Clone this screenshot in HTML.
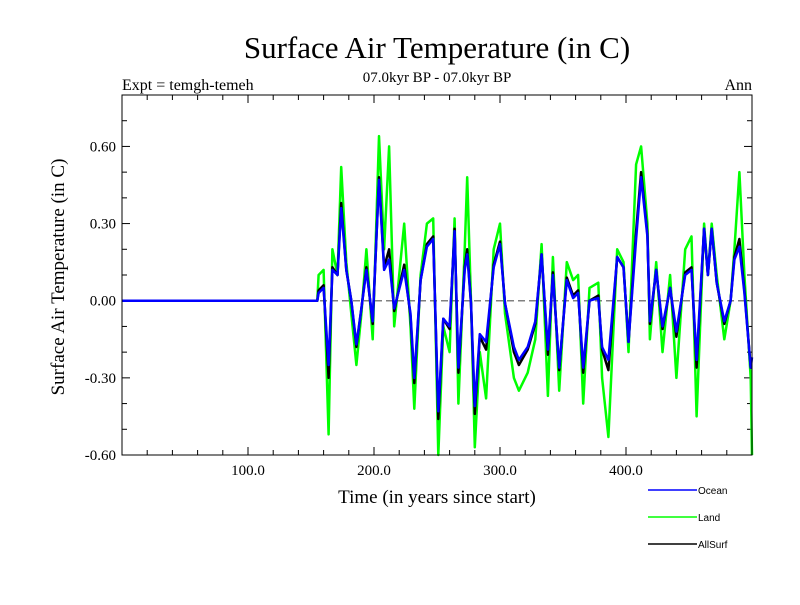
<!DOCTYPE html>
<html><head><meta charset="utf-8"><style>
body{margin:0;background:#fff;}
svg text{font-family:"Liberation Serif",serif;}
</style></head><body>
<svg id="chart" width="800" height="600" xmlns="http://www.w3.org/2000/svg">
<text x="437" y="58" font-size="31" text-anchor="middle">Surface Air Temperature (in C)</text>
<text x="437" y="82" font-size="15" text-anchor="middle">07.0kyr BP - 07.0kyr BP</text>
<text x="122" y="90" font-size="16">Expt = temgh-temeh</text>
<text x="752" y="90" font-size="16" text-anchor="end">Ann</text>
<text transform="translate(64,277) rotate(-90)" font-size="19" text-anchor="middle">Surface Air Temperature (in C)</text>
<text x="437" y="503" font-size="19" text-anchor="middle">Time (in years since start)</text>
<g id="axes"></g>
<g id="series"></g>
<rect x="122" y="95" width="630" height="360" fill="none" stroke="#000" stroke-width="1"/>
<g font-family="Liberation Sans, sans-serif" font-size="10">
<line x1="648" y1="490" x2="697" y2="490" stroke="#0000ff" stroke-width="1.5"/>
<text x="698" y="494" style="font-family:'Liberation Sans',sans-serif">Ocean</text>
<line x1="648" y1="517" x2="697" y2="517" stroke="#00ff00" stroke-width="1.5"/>
<text x="698" y="521" style="font-family:'Liberation Sans',sans-serif">Land</text>
<line x1="648" y1="544" x2="697" y2="544" stroke="#000" stroke-width="1.5"/>
<text x="698" y="548" style="font-family:'Liberation Sans',sans-serif">AllSurf</text>
</g>
</svg>
<script>
const years=[0,155,156,160,164,167,171,174,178,182,186,190,194,199,204,208,212,216,224,229,232,237,242,247,251,255,260,264,267,272,274,277,280,284,289,295,300,304,311,315,322,328,333,338,342,347,353,358,362,366,371,378,381,386,393,398,402,408,412,417,419,424,429,435,440,447,452,456,462,465,468,472,478,483,486,490,494,499,500];
const ocean=[0,0,0.03,0.05,-0.25,0.12,0.1,0.36,0.12,0.0,-0.17,-0.03,0.12,-0.08,0.47,0.12,0.16,-0.03,0.12,-0.05,-0.3,0.08,0.21,0.24,-0.43,-0.07,-0.1,0.27,-0.26,0.12,0.18,-0.01,-0.41,-0.13,-0.16,0.13,0.22,-0.01,-0.18,-0.23,-0.18,-0.08,0.18,-0.19,0.1,-0.26,0.08,0.01,0.03,-0.26,0.0,0.01,-0.18,-0.23,0.17,0.13,-0.16,0.24,0.48,0.25,-0.08,0.12,-0.1,0.05,-0.12,0.1,0.12,-0.23,0.28,0.1,0.28,0.07,-0.08,0.0,0.16,0.21,0.03,-0.26,-0.22];
const land=[0,0,0.1,0.12,-0.52,0.2,0.1,0.52,0.15,-0.05,-0.25,-0.05,0.2,-0.15,0.64,0.2,0.6,-0.1,0.3,-0.1,-0.42,0.1,0.3,0.32,-0.6,-0.1,-0.2,0.32,-0.4,0.2,0.48,0.0,-0.57,-0.2,-0.38,0.2,0.3,-0.05,-0.3,-0.35,-0.28,-0.15,0.22,-0.37,0.17,-0.35,0.15,0.08,0.1,-0.4,0.05,0.07,-0.3,-0.53,0.2,0.15,-0.2,0.53,0.6,0.3,-0.15,0.15,-0.2,0.1,-0.3,0.2,0.25,-0.45,0.3,0.1,0.3,0.1,-0.15,0.0,0.2,0.5,0.1,-0.3,-0.6];
const allsurf=[0,0,0.04,0.06,-0.3,0.13,0.1,0.38,0.12,0.0,-0.18,-0.03,0.13,-0.09,0.48,0.13,0.2,-0.04,0.14,-0.06,-0.32,0.08,0.22,0.25,-0.46,-0.07,-0.11,0.28,-0.28,0.13,0.2,-0.01,-0.44,-0.14,-0.19,0.14,0.23,-0.01,-0.2,-0.25,-0.19,-0.09,0.18,-0.21,0.11,-0.27,0.09,0.02,0.04,-0.28,0.0,0.02,-0.19,-0.27,0.17,0.13,-0.16,0.27,0.5,0.26,-0.09,0.12,-0.11,0.05,-0.14,0.11,0.13,-0.26,0.28,0.1,0.28,0.07,-0.09,0.0,0.17,0.24,0.04,-0.26,-0.26];
const yTicks=[-0.6,-0.3,0,0.3,0.6];
const yTickLabels=["-0.60","-0.30","0.00","0.30","0.60"];
const xTicks=[100,200,300,400];
const xTickLabels=["100.0","200.0","300.0","400.0"];
const NS="http://www.w3.org/2000/svg";
const X0=122,X1=752,Y0=95,Y1=455,XMIN=0,XMAX=500,YMIN=-0.6,YMAX=0.8;
function xs(v){return X0+(v-XMIN)/(XMAX-XMIN)*(X1-X0);}
function ys(v){return Y1-(v-YMIN)/(YMAX-YMIN)*(Y1-Y0);}
const axes=document.getElementById('axes');
function mk(tag,attrs,parent){const e=document.createElementNS(NS,tag);for(const k in attrs)e.setAttribute(k,attrs[k]);parent.appendChild(e);return e;}
for(let i=-6;i<=8;i++){const v=i/10,y=ys(v),major=(i%3===0);const L=major?8:5;
 const t1=mk('line',{x1:X0,x2:X0+L,y1:y,y2:y,stroke:'#000'},axes);
 
 
 const t2=mk('line',{x1:X1,x2:X1-L,y1:y,y2:y,stroke:'#000'},axes);
 
 }
for(let i=0;i<=25;i++){const v=i*20,x=xs(v),major=(v%100===0);const L=major?8:5;
 const t1=mk('line',{x1:x,x2:x,y1:Y1,y2:Y1-L,stroke:'#000'},axes);
 
 
 const t2=mk('line',{x1:x,x2:x,y1:Y0,y2:Y0+L,stroke:'#000'},axes);
 
 }
yTicks.forEach((v,i)=>{const t=mk('text',{x:X0-6,y:ys(v)+5,'font-size':15,'text-anchor':'end'},axes);t.textContent=yTickLabels[i];
 
 });
xTicks.forEach((v,i)=>{const t=mk('text',{x:xs(v),y:Y1+20,'font-size':15,'text-anchor':'middle'},axes);t.textContent=xTickLabels[i];
 
 });
const zl=mk('line',{x1:X0,x2:X1,y1:ys(0),y2:ys(0),stroke:'#808080','stroke-width':1.5,'stroke-dasharray':'7,4'},axes);


const ser=document.getElementById('series');
function path(vals,color,w,name){const d=vals.map((v,i)=>(i?'L':'M')+xs(years[i]).toFixed(1)+','+ys(v).toFixed(1)).join('');
 const p=mk('path',{d:d,fill:'none',stroke:color,'stroke-width':w,'stroke-linejoin':'round'},ser);
 
 }
path(land,'#00ff00',2.5,'land-line');
path(allsurf,'#000000',2.5,'allsurf-line');
path(ocean,'#0000ff',2.5,'ocean-line');
</script>
</body></html>
